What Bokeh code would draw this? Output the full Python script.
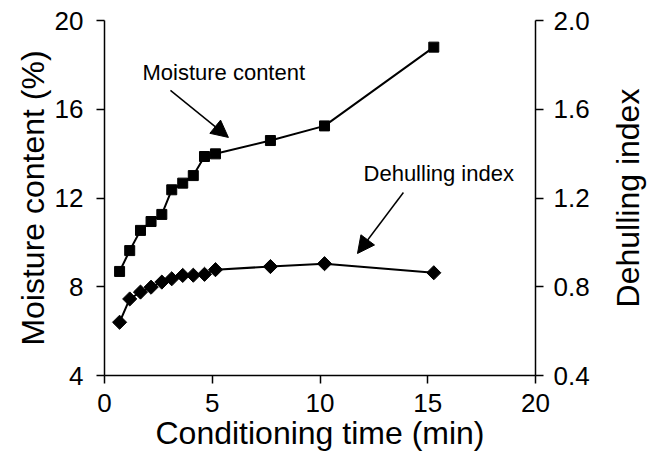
from bokeh.plotting import figure
from bokeh.layouts import row
from bokeh.models import (Range1d, LinearAxis, FixedTicker, PrintfTickFormatter,
                          Arrow, NormalHead, Label)
from bokeh.embed import file_html
from bokeh.resources import INLINE
import numpy as np

# ---- data ----
time_min = [0.70, 1.17, 1.67, 2.16, 2.66, 3.12, 3.63, 4.12, 4.64, 5.15, 7.70, 10.21, 15.28]
moisture = [8.69, 9.63, 10.54, 10.94, 11.26, 12.37, 12.67, 13.01, 13.87, 13.99, 14.59, 15.25, 18.80]
dehulling = [0.640, 0.745, 0.776, 0.798, 0.821, 0.836, 0.851, 0.852, 0.856, 0.877, 0.891, 0.904, 0.863]

x_ticks = [0, 5, 10, 15, 20]
y_ticks = [4, 8, 12, 16, 20]
y2_ticks = [0.4, 0.8, 1.2, 1.6, 2.0]

x_title = "Conditioning time (min)"
y_title = "Moisture content (%)"
y2_title = "Dehulling index"

# annotation positions (data units of left axis)
mc_label = (1.76, 17.66, "Moisture content")
di_label = (12.02, 13.10, "Dehulling index")
mc_arrow = (3.06, 16.85, 5.75, 14.73)
di_arrow = (13.87, 12.25, 11.74, 9.50)

FONT = "Liberation Sans"

p = figure(width=606, height=470, frame_width=431, frame_height=355,
           x_range=Range1d(0, 20), y_range=Range1d(4, 20),
           output_backend="svg", toolbar_location=None,
           min_border_left=104, min_border_top=20, min_border_right=71,
           min_border_bottom=95)
p.extra_y_ranges = {"di": Range1d(0.4, 2.0)}
p.outline_line_color = None
p.xgrid.visible = False
p.ygrid.visible = False
p.background_fill_color = "white"
p.border_fill_color = "white"

def style_axis(ax, ticks, label):
    ax.ticker = FixedTicker(ticks=ticks)
    ax.minor_tick_line_color = None
    ax.major_tick_in = 0
    ax.major_tick_out = 8
    ax.major_tick_line_width = 1.5
    ax.axis_line_width = 1.5
    ax.axis_line_color = "black"
    ax.major_tick_line_color = "black"
    ax.major_label_text_font = FONT
    ax.major_label_text_font_size = "26px"
    ax.major_label_text_color = "black"
    if label:
        ax.axis_label = label
        ax.axis_label_text_font = FONT
        ax.axis_label_text_font_size = "32px"
        ax.axis_label_text_font_style = "normal"
        ax.axis_label_text_color = "black"

style_axis(p.xaxis[0], x_ticks, x_title)
p.xaxis[0].major_label_standoff = 10
p.xaxis[0].axis_label_standoff = 0
style_axis(p.yaxis[0], y_ticks, y_title)
p.yaxis[0].major_label_standoff = 13
p.yaxis[0].axis_label_standoff = 1

ax2 = LinearAxis(y_range_name="di")
style_axis(ax2, y2_ticks, None)
ax2.formatter = PrintfTickFormatter(format="%.1f")
ax2.major_label_standoff = 10
p.add_layout(ax2, "right")

# moisture content series
p.line(time_min, moisture, line_color="black", line_width=2)
p.scatter(time_min, moisture, marker="square", size=10,
          fill_color="black", line_color="black")

# dehulling index series
p.line(time_min, dehulling, line_color="black", line_width=2, y_range_name="di")
p.scatter(time_min, dehulling, marker="square", size=10, angle=np.pi / 4,
          fill_color="black", line_color="black", y_range_name="di")

# annotations
for (lx, ly, txt) in (mc_label, di_label):
    p.add_layout(Label(x=lx, y=ly, text=txt, text_font=FONT, text_font_size="22px",
                       text_color="black", text_baseline="middle", text_align="left"))

for (x0, y0, x1, y1) in (mc_arrow, di_arrow):
    p.add_layout(Arrow(x_start=x0, y_start=y0, x_end=x1, y_end=y1,
                       line_color="black", line_width=1.5,
                       end=NormalHead(size=17, fill_color="black", line_color="black",
                                      line_width=1)))

# narrow companion figure carrying the right-hand title, which reads bottom to top
side = figure(width=41, height=470, frame_width=1, frame_height=355,
              x_range=Range1d(0, 1), y_range=Range1d(0.4, 2.0),
              output_backend="svg", toolbar_location=None, x_axis_location=None,
              min_border_left=39, min_border_right=1, min_border_top=20,
              min_border_bottom=95)
side.outline_line_color = None
side.xgrid.visible = False
side.ygrid.visible = False
side.background_fill_color = "white"
side.border_fill_color = "white"
sy = side.yaxis[0]
sy.ticker = FixedTicker(ticks=[])
sy.minor_tick_line_color = None
sy.major_tick_line_color = None
sy.major_tick_out = 0
sy.major_tick_in = 0
sy.axis_line_color = None
sy.axis_label = y2_title
sy.axis_label_text_font = FONT
sy.axis_label_text_font_size = "32px"
sy.axis_label_text_font_style = "normal"
sy.axis_label_text_color = "black"
sy.axis_label_standoff = 0

layout = row(p, side, spacing=0)
open("out.html", "w").write(file_html(layout, INLINE))
